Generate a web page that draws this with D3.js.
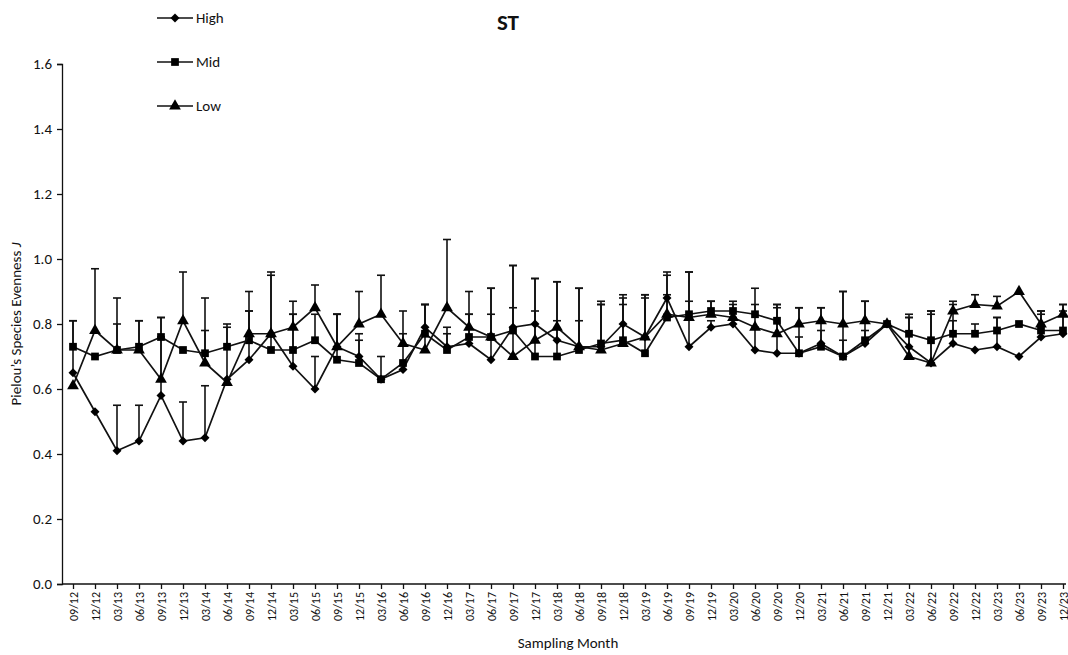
<!DOCTYPE html>
<html>
<head>
<meta charset="utf-8">
<script src="https://cdnjs.cloudflare.com/ajax/libs/d3/7.8.5/d3.min.js"></script>
<style>
  body { margin: 0; background: #fff; }
  text { font-family: Carlito, Calibri, "Open Sans", sans-serif; fill: #111; }
</style>
</head>
<body>
<svg id="chart" width="1068" height="655"></svg>
<script>
var months = ['09/12','12/12','03/13','06/13','09/13','12/13','03/14','06/14','09/14','12/14','03/15','06/15',
  '09/15','12/15','03/16','06/16','09/16','12/16','03/17','06/17','09/17','12/17','03/18','06/18','09/18','12/18',
  '03/19','06/19','09/19','12/19','03/20','06/20','09/20','12/20','03/21','06/21','09/21','12/21','03/22','06/22',
  '09/22','12/22','03/23','06/23','09/23','12/23'];

var high = [.65,.53,.41,.44,.58,.44,.45,.63,.69,.77,.67,.60,.73,.70,.63,.66,.79,.73,.74,.69,.79,.80,.75,.73,.73,.80,
  .76,.88,.73,.79,.80,.72,.71,.71,.74,.70,.74,.80,.73,.68,.74,.72,.73,.70,.76,.77];
var mid = [.73,.70,.72,.73,.76,.72,.71,.73,.75,.72,.72,.75,.69,.68,.63,.68,.77,.72,.76,.76,.78,.70,.70,.72,.74,.75,
  .71,.82,.83,.84,.84,.83,.81,.71,.73,.70,.75,.80,.77,.75,.77,.77,.78,.80,.78,.78];
var low = [.61,.78,.72,.72,.63,.81,.68,.62,.77,.77,.79,.85,.73,.80,.83,.74,.72,.85,.79,.76,.70,.75,.79,.73,.72,.74,
  .76,.83,.82,.83,.82,.79,.77,.80,.81,.80,.81,.80,.70,.68,.84,.86,.855,.90,.80,.83];

var highErr = [.16,0,.14,.11,.18,.12,.16,0,.15,.19,.16,.10,.10,.05,0,0,.07,.04,.09,.22,.19,.14,.18,.18,.14,.09,
  .13,.07,.23,.02,.02,.07,.14,.14,.11,.20,.13,0,.09,.16,.12,0,.09,0,.08,.09];
var midErr = [.08,0,.08,.08,.06,0,.07,.06,.09,.04,.11,.08,.14,.09,.07,.09,.09,.07,.07,.07,.07,.14,.11,.09,.12,.11,
  .17,.07,.04,.03,.02,.08,.05,.05,.05,.05,.03,0,.06,.08,.04,.03,.04,0,.05,.06];
var lowErr = [0,.19,.16,.09,.19,.15,.20,.18,.13,.18,.08,.07,.10,.10,.12,.10,.14,.21,.11,.15,.28,.19,.14,.18,.14,.14,
  .13,.13,.14,.04,.05,.07,.09,.05,.04,.10,.06,0,.12,.16,.03,.03,.03,0,.04,.03];

var yTicks = [0, 0.2, 0.4, 0.6, 0.8, 1.0, 1.2, 1.4, 1.6];

var series = [
  { name: 'High', values: high, err: highErr, symbol: d3.symbolSquare, size: 40, rot: 45 },
  { name: 'Mid', values: mid, err: midErr, symbol: d3.symbolSquare, size: 60, rot: 0 },
  { name: 'Low', values: low, err: lowErr, symbol: d3.symbolTriangle, size: 60, rot: 0 }
];

var svg = d3.select('#chart');
var x = d3.scalePoint().domain(months).range([73, 1063]);
var y = d3.scaleLinear().domain([0, 1.6]).range([584, 64]);

// axes
var yAxis = svg.append('g').attr('transform', 'translate(62,0)')
  .call(d3.axisLeft(y).tickValues(yTicks).tickFormat(d3.format('.1f')).tickSize(5));
yAxis.selectAll('text').style('font-size', '15px').attr('dx', '-2');
svg.append('line').attr('x1', 62).attr('x2', 1066).attr('y1', 584).attr('y2', 584).attr('stroke', '#111').attr('stroke-width', 1.3);
var xAxis = svg.append('g').attr('transform', 'translate(0,584)')
  .call(d3.axisBottom(x).tickSize(5).tickSizeOuter(0));
xAxis.select('.domain').remove();
xAxis.selectAll('text').style('font-size', '12px')
  .attr('transform', 'rotate(-90)').attr('text-anchor', 'end')
  .attr('x', -8).attr('y', 0).attr('dy', '0.35em');
svg.selectAll('.tick line, .domain').attr('stroke', '#111').attr('stroke-width', 1.3);

// error bars
series.forEach(function(s) {
  var g = svg.append('g');
  s.values.forEach(function(v, i) {
    if (!s.err[i]) return;
    var cx = x(months[i]), top = y(v + s.err[i]);
    g.append('line').attr('x1', cx).attr('x2', cx).attr('y1', y(v)).attr('y2', top)
      .attr('stroke', '#111').attr('stroke-width', 1.6);
    g.append('line').attr('x1', cx - 4).attr('x2', cx + 4).attr('y1', top).attr('y2', top)
      .attr('stroke', '#111').attr('stroke-width', 1.6);
  });
});

// lines + markers
var line = d3.line().x(function(d, i) { return x(months[i]); }).y(function(d) { return y(d); });
series.forEach(function(s) {
  svg.append('path').datum(s.values).attr('d', line)
    .attr('fill', 'none').attr('stroke', '#111').attr('stroke-width', 1.7);
  svg.append('g').selectAll('path').data(s.values).join('path')
    .attr('d', d3.symbol().type(s.symbol).size(s.size))
    .attr('transform', function(d, i) { return 'translate(' + x(months[i]) + ',' + y(d) + ') rotate(' + s.rot + ')'; })
    .attr('fill', '#000');
});

// legend
series.forEach(function(s, i) {
  var ly = 18 + i * 44;
  svg.append('line').attr('x1', 157).attr('x2', 193).attr('y1', ly).attr('y2', ly)
    .attr('stroke', '#111').attr('stroke-width', 1.7);
  svg.append('path').attr('d', d3.symbol().type(s.symbol).size(s.size)())
    .attr('transform', 'translate(175,' + ly + ') rotate(' + s.rot + ')');
  svg.append('text').attr('x', 196).attr('y', ly).attr('dy', '0.35em')
    .style('font-size', '15px').text(s.name);
});

// titles
svg.append('text').attr('x', 508).attr('y', 30).attr('text-anchor', 'middle')
  .style('font-size', '23px').style('font-weight', 'bold').text('ST');
svg.append('text').attr('x', 568).attr('y', 648).attr('text-anchor', 'middle')
  .style('font-size', '15px').text('Sampling Month');
svg.append('text').attr('transform', 'translate(21,324) rotate(-90)').attr('text-anchor', 'middle')
  .style('font-size', '15px').html('Pielou\u2019s Species Evenness <tspan font-style="italic">J</tspan>');
</script>
</body>
</html>
